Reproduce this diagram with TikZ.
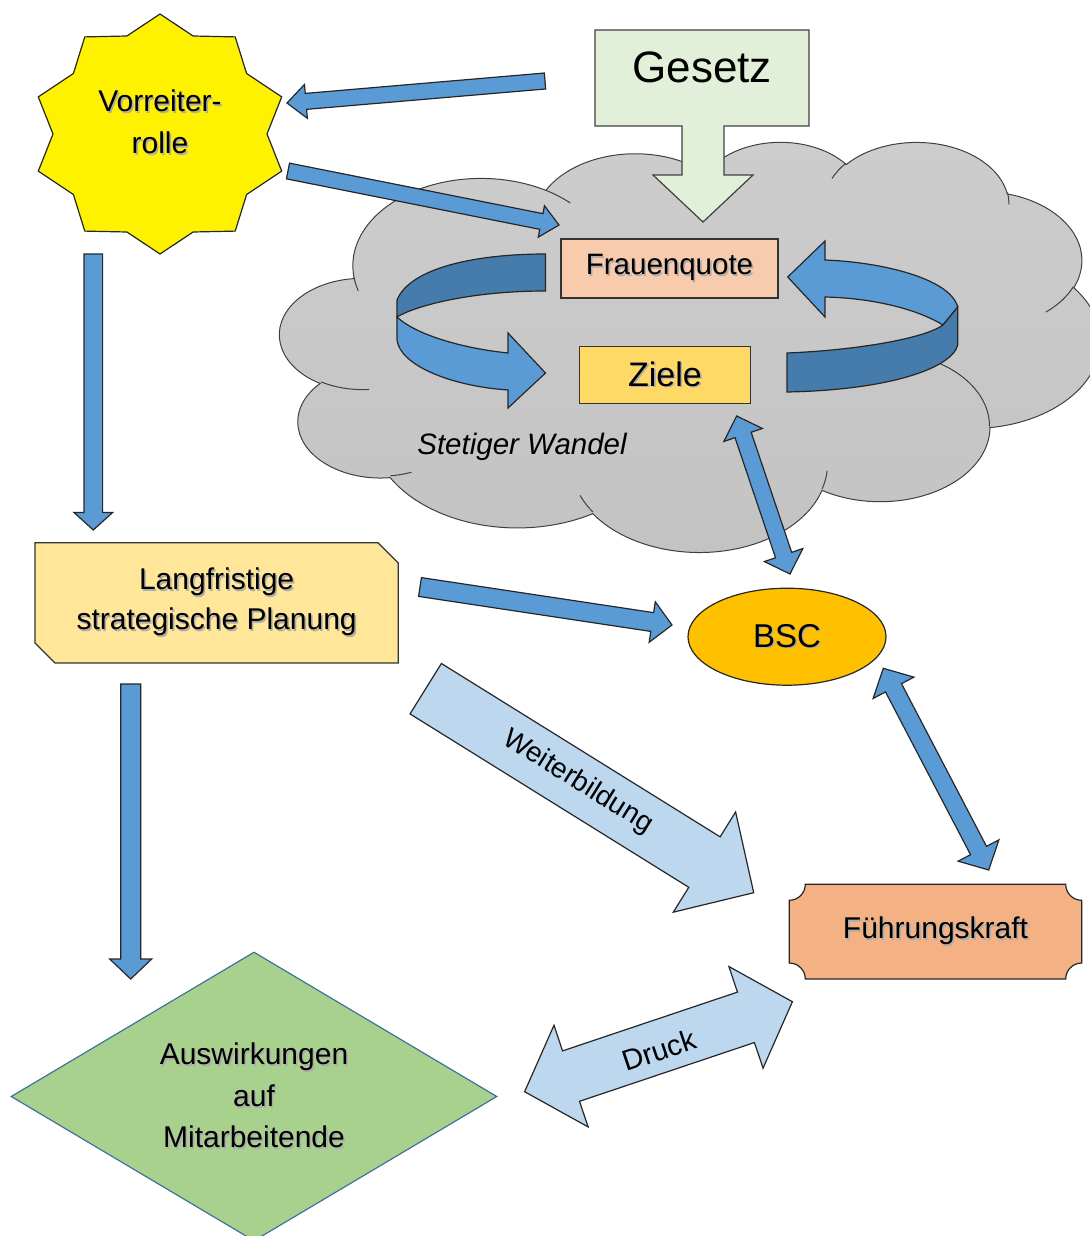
\documentclass[tikz,border=0pt]{standalone}
\usepackage{fontspec}
\setmainfont{Liberation Sans}
\usetikzlibrary{calc,shapes.geometric}

\definecolor{bluefill}{HTML}{5B9BD5}
\definecolor{bluedark}{HTML}{467CAC}
\definecolor{lightblue}{HTML}{BDD7EE}
\definecolor{gesetzgreen}{HTML}{E2F0D9}
\definecolor{quotepeach}{HTML}{F8CBAD}
\definecolor{zielegold}{HTML}{FFD966}
\definecolor{planyellow}{HTML}{FFE699}
\definecolor{bscorange}{HTML}{FFC000}
\definecolor{leadorange}{HTML}{F4B183}
\definecolor{impactgreen}{HTML}{A9D18E}
\definecolor{impactedge}{HTML}{41719C}
\definecolor{cloudtop}{HTML}{CDCDCD}
\definecolor{cloudbottom}{HTML}{C3C3C3}
\definecolor{cloudedge}{HTML}{404040}

\newcommand\fs[2]{\fontsize{#1}{#2}\selectfont}
% text with a soft grey drop shadow
\newcommand\shd[1]{\makebox[0pt][l]{\hspace{1.6pt}\raisebox{-1.6pt}{\textcolor{black!32}{#1}}}#1}

% cloud outline: arcs in a 43200 x 43200 frame, scaled to 820 x 410
\newcommand\cw{0.018981}
\newcommand\chh{0.0094907}
% points given in hundreds of frame units
\newcommand\cpt[2]{(280+#1*1.8981,141+#2*0.94907)}
\newcommand\cloudarc[4]{%
  \pgfextra{%
    \pgfmathparse{atan2(#1*sin(#3),#2*cos(#3))}\xdef\cloudta{\pgfmathresult}%
    \pgfmathparse{atan2(#1*sin(#3+#4),#2*cos(#3+#4))}\xdef\cloudtb{\pgfmathresult}%
    \pgfmathparse{ifthenelse(\cloudtb<\cloudta,\cloudtb+360,\cloudtb)}\xdef\cloudtb{\pgfmathresult}%
  }%
  arc[start angle=\cloudta, end angle=\cloudtb, x radius=#1*\cw, y radius=#2*\chh]%
}

% block arrow: style, tail, tip, half shaft, half head, head length
\newcommand\blockarrow[6]{%
  \coordinate (ba-b) at ($(#3)!#6!(#2)$);
  \draw[#1] ($(#2)!#4!90:(#3)$) -- ($(ba-b)!#4!90:(#3)$) -- ($(ba-b)!#5!90:(#3)$) -- (#3)
    -- ($(ba-b)!#5!-90:(#3)$) -- ($(ba-b)!#4!-90:(#3)$) -- ($(#2)!#4!-90:(#3)$) -- cycle;
}
% double block arrow: style, end one, end two, half shaft, half head, head length
\newcommand\dblarrow[6]{%
  \coordinate (da-a) at ($(#2)!#6!(#3)$);
  \coordinate (da-b) at ($(#3)!#6!(#2)$);
  \draw[#1] (#2) -- ($(da-a)!#5!90:(#3)$) -- ($(da-a)!#4!90:(#3)$) -- ($(da-b)!#4!90:(#3)$)
    -- ($(da-b)!#5!90:(#3)$) -- (#3) -- ($(da-b)!#5!-90:(#3)$) -- ($(da-b)!#4!-90:(#3)$)
    -- ($(da-a)!#4!-90:(#3)$) -- ($(da-a)!#5!-90:(#3)$) -- cycle;
}

\tikzset{
  outline/.style={draw=black!85, line width=1.2pt, line join=miter},
  bluearrow/.style={outline, fill=bluefill},
  lightarrow/.style={outline, fill=lightblue},
  ribbonfront/.style={outline, fill=bluefill},
  ribbonback/.style={outline, fill=bluedark},
  cloudshape/.style={draw=cloudedge, line width=1pt, top color=cloudtop, bottom color=cloudbottom},
  crease/.style={draw=cloudedge, line width=1pt},
  label/.style={inner sep=0pt, text=black, align=center},
  plainbox/.style={rectangle, inner sep=0pt, draw=black!80, line width=1.2pt},
  hidden/.style={rectangle, inner sep=0pt, align=center},
}

\begin{document}
\begin{tikzpicture}[x=1pt,y=-1pt]
\useasboundingbox (0,0) rectangle (1089,1236);

% ---- cloud: stetiger Wandel ----
\draw[cloudshape] \cpt{39.00}{143.70}
  \cloudarc{6753}{9190}{-190.4875}{123.7805}
  \cloudarc{5333}{7267}{-144.1024}{89.9452}
  \cloudarc{4365}{5945}{-145.8079}{99.7230}
  \cloudarc{4857}{6595}{-130.9861}{117.2417}
  \cloudarc{5333}{7273}{-78.7089}{109.0269}
  \cloudarc{6775}{9220}{-46.2673}{130.2690}
  \cloudarc{5785}{7867}{0.6250}{114.0333}
  \cloudarc{6752}{9215}{22.4516}{115.1726}
  \cloudarc{7720}{10543}{66.2426}{75.7110}
  \cloudarc{4360}{5918}{-274.9421}{146.7356}
  \cloudarc{4345}{5945}{-246.8285}{152.5189}
  -- cycle;
\draw[crease]
  \cpt{46.93}{261.77} \cloudarc{4345}{5945}{86.7420}{26.4295}
  \cpt{69.28}{348.99} \cloudarc{4360}{5918}{73.6105}{11.4475}
  \cpt{164.78}{390.90} \cloudarc{6752}{9215}{137.6242}{14.0811}
  \cpt{288.27}{347.51} \cloudarc{6752}{9215}{6.4533}{15.9984}
  \cpt{341.29}{229.54} \cloudarc{5785}{7867}{-70.2924}{70.9174}
  \cpt{417.98}{153.54} \cloudarc{5333}{7273}{30.3180}{27.7515}
  \cpt{383.24}{54.26} \cloudarc{4857}{6595}{-13.7443}{14.8589}
  \cpt{290.78}{39.52} \cloudarc{4857}{6595}{-149.1815}{18.1954}
  \cpt{221.41}{47.20} \cloudarc{4365}{5945}{-163.4943}{17.6864}
  \cpt{140.00}{51.92} \cloudarc{6753}{9190}{-66.7070}{12.3194}
  \cpt{41.27}{157.89} \cloudarc{6753}{9190}{157.6544}{11.8582};

% ---- Gesetz: down-arrow callout ----
\draw[outline, draw=black!75, fill=gesetzgreen]
  (595,30) -- (809,30) -- (809,126) -- (724,126) -- (724,175) -- (753,175)
  -- (703,222) -- (653,175) -- (682,175) -- (682,126) -- (595,126) -- cycle;
\node[label, font=\fs{44}{50}] (gz) at (702,67) {Gesetz};

% ---- Vorreiterrolle: ten-point star ----
\draw[outline, fill=yellow]
  (160,14) -- (193.1,36.0) -- (235.2,36.9) -- (246.6,73.5) -- (281.7,96.9)
  -- (267,134) -- (281.7,171.1) -- (246.6,194.5) -- (235.2,231.1) -- (193.1,232.0)
  -- (160,254) -- (126.9,232.0) -- (84.8,231.1) -- (73.4,194.5) -- (38.3,171.1)
  -- (53,134) -- (38.3,96.9) -- (73.4,73.5) -- (84.8,36.9) -- (126.9,36.0) -- cycle;
\node[hidden, minimum width=244, minimum height=240] (vr) at (160,134) {};
\node[label, font=\fs{30}{42}] (vrt) at (160,123) {\shd{Vorreiter-}\\\shd{rolle}};

% ---- boxes in the cloud ----
\node[plainbox, fill=quotepeach, minimum width=217, minimum height=59,
      font=\fs{29.5}{35}] (fq) at (669.5,268.5) {\shd{Frauenquote}};
\node[plainbox, fill=zielegold, minimum width=171, minimum height=57,
      font=\fs{34}{40}] (zl) at (665,374.7) {\shd{Ziele}};

% ---- circular arrow round Frauenquote and Ziele ----
\draw[ribbonback] (545.5,254) .. controls (475,254) and (410,268) .. (397,300)
  -- (397,317) .. controls (415,306) and (470,291) .. (545.5,291) -- cycle;
\draw[ribbonfront] (397,317) -- (397,340) .. controls (400,365) and (450,386) .. (508,390)
  -- (508,408) -- (545.5,373) -- (508,333) -- (508,353)
  .. controls (460,348) and (415,334) .. (397,317) -- cycle;
\draw[ribbonfront] (787.7,277) -- (825,241) -- (825,260)
  .. controls (880,262) and (950,278) .. (957.7,307) -- (943,325)
  .. controls (915,308) and (870,298) .. (825,297) -- (825,317) -- cycle;
\draw[ribbonback] (787,353) .. controls (860,350) and (925,338) .. (943,325)
  -- (957.7,307) -- (957.7,345) .. controls (952,368) and (890,390) .. (787,392) -- cycle;

\node[label, font=\fs{29.5}{35}\itshape] (sw) at (522,447) {Stetiger Wandel};

% ---- lower nodes ----
\draw[outline, draw=black!80, fill=planyellow]
  (35,542.7) -- (378,542.7) -- (398.3,563) -- (398.3,663) -- (55,663) -- (35,643) -- cycle;
\node[hidden, minimum width=363, minimum height=120, font=\fs{30}{40}]
  (lp) at (216.6,602.8) {\shd{Langfristige}\\\shd{strategische Planung}};

\node[ellipse, inner sep=0pt, minimum width=198, minimum height=97, outline, fill=bscorange,
      font=\fs{33}{40}] (bsc) at (787,636.7) {\shd{BSC}};

\draw[outline, fill=leadorange]
  (805.3,884.3) -- (1065.7,884.3) arc[start angle=180, end angle=90, radius=16]
  -- (1081.7,963) arc[start angle=270, end angle=180, radius=16]
  -- (805.3,979) arc[start angle=0, end angle=-90, radius=16]
  -- (789.3,900.3) arc[start angle=90, end angle=0, radius=16] -- cycle;
\node[hidden, minimum width=292, minimum height=95, font=\fs{30}{36}]
  (fk) at (935.5,931.7) {\shd{Führungskraft}};

\node[diamond, aspect=1.7, inner sep=0pt, minimum width=486, minimum height=289,
      draw=impactedge, line width=1.2pt, fill=impactgreen, font=\fs{30}{41.5}, align=center]
  (ai) at (254,1096.5) {\shd{Auswirkungen}\\\shd{auf}\\\shd{Mitarbeitende}};

% ---- arrow ends ----
\coordinate (gzL) at (545,81);     \coordinate (vrR) at (287,103);
\coordinate (vrA) at (288,171);    \coordinate (fqA) at (559,225);
\coordinate (vrB) at (93.3,254);   \coordinate (lpT) at (93.3,530);
\coordinate (lpR) at (420,587);    \coordinate (bscL) at (672,625);
\coordinate (lpW) at (425.7,688.7);\coordinate (fkW) at (753.7,892.7);
\coordinate (aiD) at (524.6,1091.7);\coordinate (fkD) at (792.4,1001.7);
\coordinate (zlB) at (736.7,416);  \coordinate (bscT) at (790,574);
\coordinate (bscF) at (883.3,668.3);\coordinate (fkT) at (988.7,870);
\coordinate (lpB) at (130.7,684);  \coordinate (aiT) at (130.7,979);

% ---- arrows ----
\blockarrow{bluearrow}{gzL}{vrR}{8pt}{17pt}{19pt}
\blockarrow{bluearrow}{vrA}{fqA}{8pt}{16pt}{18pt}
\blockarrow{bluearrow}{vrB}{lpT}{9.3pt}{19.3pt}{17.5pt}
\blockarrow{bluearrow}{lpR}{bscL}{9.5pt}{20.5pt}{20pt}
\blockarrow{lightarrow}{lpW}{fkW}{29.7pt}{59pt}{58pt}
\dblarrow{lightarrow}{aiD}{fkD}{26.6pt}{53.6pt}{49pt}
\dblarrow{bluearrow}{zlB}{bscT}{8.5pt}{20.3pt}{20pt}
\dblarrow{bluearrow}{bscF}{fkT}{9pt}{23pt}{22pt}
\blockarrow{bluearrow}{lpB}{aiT}{10pt}{21pt}{20pt}

\node[label, font=\fs{28}{34}, rotate=-31.9] (wb) at (578,782) {Weiterbildung};
\node[label, font=\fs{29}{34}, rotate=18.6] (dr) at (659,1050) {Druck};
\end{tikzpicture}
\end{document}
